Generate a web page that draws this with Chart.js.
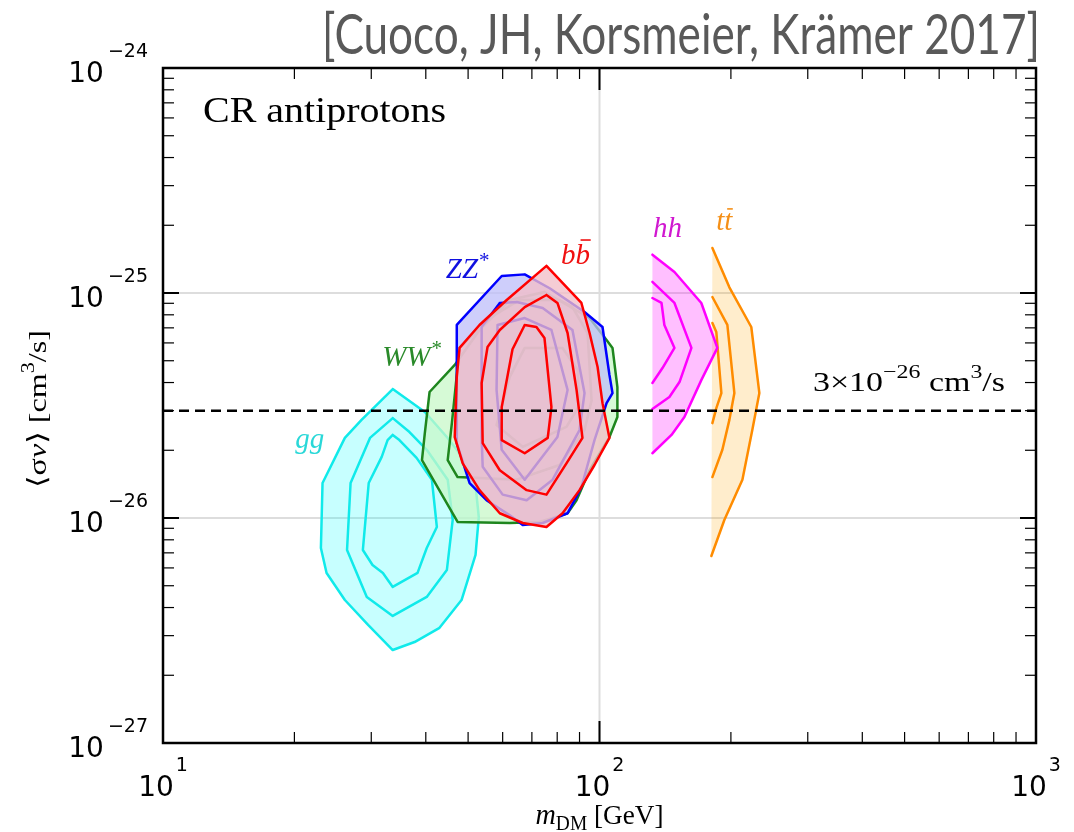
<!DOCTYPE html>
<html>
<head>
<meta charset="utf-8">
<script src="https://cdn.jsdelivr.net/npm/chart.js@4.4.0/dist/chart.umd.min.js"></script>
<style>
  html, body { margin: 0; padding: 0; background: #fff; }
  #wrap { width: 1074px; height: 832px; }
</style>
</head>
<body>
<div id="wrap"><canvas id="chart" width="1074" height="832"></canvas></div>
<script>
// mass in GeV, <sigma v> in units of 1e-26 cm^3/s
const massRange = [10, 1000];
const sigmaRange = [0.1, 100];
const xDecades = [1, 2, 3];
const yDecades = [-27, -26, -25, -24];
const thermalSigma = 3;

// contour levels per channel, [mass, sigma v]
const ggOuter = [[33.6, 3.74], [39.8, 2.96], [44.7, 2.29], [49.1, 1.81], [52.0, 1.40], [52.9, 1.01], [52.0, 0.685], [48.3, 0.432], [43.0, 0.325], [37.7, 0.281], [33.6, 0.259], [29.5, 0.335], [26.1, 0.432], [23.7, 0.570], [23.0, 0.736], [23.2, 1.43], [26.1, 2.27], [28.5, 2.73]];
const ggMiddle = [[33.6, 2.78], [36.7, 2.41], [40.2, 2.01], [44.9, 1.48], [46.1, 0.98], [44.7, 0.587], [40.2, 0.446], [33.6, 0.367], [29.3, 0.446], [26.4, 0.721], [26.9, 1.43], [29.8, 2.27]];
const ggInner = [[33.6, 2.34], [34.8, 2.22], [38.1, 1.85], [41.3, 1.48], [42.4, 0.912], [40.2, 0.736], [38.3, 0.570], [33.6, 0.494], [31.9, 0.570], [30.2, 0.618], [28.7, 0.721], [29.6, 1.43], [31.7, 1.87], [32.7, 2.22]];

const wwOuter = [[40.8, 3.63], [46.6, 4.79], [53.1, 6.85], [62.3, 9.31], [74.8, 10.1], [94.9, 7.74], [103.8, 6.18], [107.1, 5.70], [109.9, 3.82], [109.9, 2.81], [105.4, 2.29], [94.9, 1.63], [88.6, 1.20], [84.5, 1.05], [72.9, 0.96], [62.3, 0.95], [47.3, 0.96], [39.2, 1.81], [39.8, 2.39]];
const wwMiddle = [[45.9, 2.64], [47.8, 5.70], [56.0, 7.74], [65.6, 9.31], [81.0, 9.31], [86.7, 8.66], [93.9, 6.64], [95.9, 3.33], [92.4, 2.46], [81.0, 1.72], [64.6, 1.48], [47.3, 1.52], [44.9, 1.81]];
const wwInner = [[62.3, 4.24], [67.4, 5.70], [82.3, 5.70], [89.1, 4.55], [90.0, 3.17], [84.0, 2.54], [66.7, 2.07], [58.1, 2.59]];

const zzOuter = [[47.1, 7.21], [59.7, 11.9], [67.4, 12.1], [76.9, 10.5], [92.4, 8.23], [101.6, 7.06], [105.4, 4.32], [107.1, 3.59], [103.8, 3.24], [97.4, 2.22], [90.9, 1.37], [84.5, 1.05], [74.1, 0.95], [66.7, 0.93], [62.2, 1.03], [55.1, 1.20], [50.4, 1.43], [47.1, 2.15]];
const zzMiddle = [[59.1, 9.03], [64.6, 9.12], [74.1, 8.58], [86.7, 6.85], [92.4, 3.59], [90.0, 2.46], [78.1, 1.48], [68.1, 1.20], [60.0, 1.27], [54.0, 1.69], [53.7, 2.29], [53.7, 7.06]];
const zzInner = [[58.4, 7.21], [67.4, 7.74], [77.6, 6.85], [84.5, 3.71], [80.1, 2.29], [67.4, 1.48], [59.7, 2.01], [58.1, 3.71]];

const bbOuter = [[75.6, 13.2], [90.9, 9.03], [94.9, 6.64], [99.0, 4.69], [101.6, 3.24], [105.4, 2.27], [97.4, 1.72], [90.0, 1.33], [82.3, 1.05], [75.6, 0.912], [66.7, 0.95], [59.1, 1.05], [53.1, 1.33], [48.6, 1.75], [46.6, 2.29], [47.1, 4.24], [47.8, 5.70], [53.1, 7.21], [61.3, 9.31]];
const bbMiddle = [[75.6, 9.80], [80.1, 9.03], [84.5, 6.64], [88.6, 3.71], [91.4, 2.27], [84.0, 1.75], [75.6, 1.27], [68.1, 1.33], [59.1, 1.63], [54.0, 2.15], [53.7, 3.98], [55.4, 5.75], [59.1, 6.85], [67.4, 8.66]];
const bbInner = [[67.4, 7.21], [71.7, 7.06], [74.8, 6.31], [77.6, 3.11], [76.1, 2.27], [67.4, 1.94], [59.7, 2.22], [59.7, 3.11], [63.2, 5.62]];

// hh and tt contours are cut by the lower edge of the mass scan
const hhOuter = [[132.2, 14.8], [148.5, 12.4], [171.1, 9.03], [186.2, 5.70], [171.1, 4.10], [156.5, 2.81], [146.2, 2.34], [132.2, 1.94]];
const hhMiddle = [[132.2, 11.2], [148.5, 9.03], [162.4, 5.70], [152.5, 4.02], [144.6, 3.45], [132.2, 3.05]];
const hhInner = [[132.2, 9.50], [138.7, 9.03], [140.8, 7.21], [148.5, 5.70], [139.4, 4.64], [132.2, 3.98]];

const ttOuter = [[181.4, 15.85], [198.4, 10.6], [222.7, 7.06], [232.4, 3.59], [223.9, 2.46], [212.5, 1.48], [193.2, 0.98], [180.4, 0.678]];
const ttMiddle = [[181.4, 9.6], [196.3, 7.21], [203.7, 3.59], [198.4, 2.73], [191.2, 2.01], [181.4, 1.52]];
const ttInner = [[181.4, 7.36], [185.2, 6.71], [190.2, 3.59], [185.2, 3.08], [181.4, 2.64]];

// channel name anchors (centre of the text)
const channelNames = ['gg', 'WW*', 'ZZ*', 'bb', 'hh', 'tt'];
const channelMass = [21.7, 37.2, 49.9, 88.1, 143.1, 193.2];
const channelSigma = [2.22, 5.14, 12.6, 14.6, 19.2, 20.7];

const colors = {
  gg: '#10eaea', ww: '#1e861e', zz: '#0000ff', bb: '#ff0000', hh: '#ff00ff', tt: '#ff8c00'
};
const labelColors = {
  gg: '#2ad8d8', ww: '#2a8a2a', zz: '#1010e0', bb: '#f01010', hh: '#d018d0', tt: '#f59018'
};
const fills = {
  gg: 'rgba(0,255,255,0.22)',
  ww: 'rgba(200,248,200,0.75)',
  zz: 'rgba(190,190,250,0.75)',
  bb: 'rgba(242,190,200,0.78)',
  hh: 'rgba(255,0,255,0.25)',
  tt: 'rgba(255,165,0,0.2)'
};

const serif = '"Liberation Serif", "DejaVu Serif", serif';
const sans = '"DejaVu Sans", sans-serif';

function toPoints(pairs, close) {
  const pts = pairs.map(([m, s]) => ({ x: m, y: s }));
  if (close) pts.push({ x: pts[0].x, y: pts[0].y });
  return pts;
}

function contour(pairs, color, fillColor, order, close = true, width = 2.5) {
  return {
    data: toPoints(pairs, close),
    showLine: true,
    borderColor: color,
    borderWidth: width,
    borderCapStyle: 'round',
    borderJoinStyle: 'round',
    backgroundColor: fillColor || 'transparent',
    fill: fillColor ? 'shape' : false,
    pointRadius: 0,
    pointHoverRadius: 0,
    order: order
  };
}

const datasets = [
  // reference thermal cross section
  {
    data: [{ x: massRange[0], y: thermalSigma }, { x: massRange[1], y: thermalSigma }],
    showLine: true, borderColor: '#000', borderWidth: 2.5, borderDash: [10, 6],
    pointRadius: 0, pointHoverRadius: 0, fill: false, order: 0
  },
  contour(hhInner, colors.hh, null, 1, false),
  contour(hhMiddle, colors.hh, null, 2, false),
  contour(hhOuter, colors.hh, null, 3, false),
  contour(hhOuter, 'transparent', fills.hh, 4, true, 0),
  contour(ttInner, colors.tt, null, 5, false),
  contour(ttMiddle, colors.tt, null, 6, false),
  contour(ttOuter, colors.tt, null, 7, false),
  contour(ttOuter, 'transparent', fills.tt, 8, true, 0),
  contour(bbInner, colors.bb, null, 10),
  contour(bbMiddle, colors.bb, null, 11),
  contour(bbOuter, colors.bb, fills.bb, 12),
  contour(zzInner, colors.zz, null, 20),
  contour(zzMiddle, colors.zz, null, 21),
  contour(zzOuter, colors.zz, fills.zz, 22),
  contour(wwInner, colors.ww, null, 30),
  contour(wwMiddle, colors.ww, null, 31),
  contour(wwOuter, colors.ww, fills.ww, 32),
  contour(ggInner, colors.gg, null, 40),
  contour(ggMiddle, colors.gg, null, 41),
  contour(ggOuter, colors.gg, fills.gg, 42)
];

function seg(ctx, x1, y1, x2, y2) {
  ctx.beginPath();
  ctx.moveTo(x1, y1);
  ctx.lineTo(x2, y2);
  ctx.stroke();
}

// draws a row of text pieces (italic, sub/superscripts, overbars)
function drawRuns(ctx, runs, x, y, align, fitWidth) {
  let w = 0;
  runs.forEach(r => {
    ctx.font = r.font;
    r.w = ctx.measureText(r.text).width;
    w += r.w + (r.pad || 0);
  });
  const sx = fitWidth ? fitWidth / w : 1;
  const total = w * sx;
  const start = align === 'center' ? x - total / 2 : align === 'right' ? x - total : x;
  ctx.save();
  ctx.textAlign = 'left';
  ctx.textBaseline = 'alphabetic';
  ctx.translate(start, y);
  ctx.scale(sx, 1);
  let cx = 0;
  runs.forEach(r => {
    cx += r.pad || 0;
    ctx.font = r.font;
    ctx.fillText(r.text, cx, r.dy || 0);
    if (r.bar) {
      ctx.save();
      ctx.strokeStyle = ctx.fillStyle;
      ctx.lineWidth = 1.6;
      seg(ctx, cx + r.w * 0.35, -r.bar, cx + r.w * 1.05, -r.bar);
      ctx.restore();
    }
    cx += r.w;
  });
  ctx.restore();
}

function channelRuns(name) {
  const f = 'italic 29px ' + serif;
  const star = '21px ' + serif;
  if (name === 'WW*' || name === 'ZZ*') {
    return [{ text: name.slice(0, 2), font: f }, { text: '*', font: star, dy: -11, pad: 1 }];
  }
  if (name === 'bb' || name === 'tt') {
    return [{ text: name[0], font: f }, { text: name[1], font: f, bar: name === 'bb' ? 24 : 21 }];
  }
  return [{ text: name, font: f }];
}

const axisDecor = {
  id: 'axisDecor',
  beforeDatasetsDraw(chart) {
    const { ctx, chartArea: a, scales: { x, y } } = chart;
    ctx.save();
    ctx.strokeStyle = '#dddddd';
    ctx.lineWidth = 2;
    xDecades.forEach(k => {
      const px = x.getPixelForValue(10 ** k);
      if (px > a.left + 2 && px < a.right - 2) seg(ctx, px, a.top, px, a.bottom);
    });
    yDecades.forEach(e => {
      const py = y.getPixelForValue(10 ** (e + 26));
      if (py > a.top + 2 && py < a.bottom - 2) seg(ctx, a.left, py, a.right, py);
    });
    ctx.restore();
  },
  afterDatasetsDraw(chart) {
    const { ctx, chartArea: a, scales: { x, y } } = chart;
    ctx.save();
    ctx.strokeStyle = '#000';

    // inward ticks on all four sides
    for (let d = xDecades[0]; d < xDecades[xDecades.length - 1]; d++) {
      for (let m = 1; m < 10; m++) {
        if (m === 1 && d === xDecades[0]) continue;
        const px = x.getPixelForValue(m * 10 ** d);
        const len = m === 1 ? 22 : 11;
        ctx.lineWidth = m === 1 ? 2 : 1.2;
        seg(ctx, px, a.top, px, a.top + len);
        seg(ctx, px, a.bottom, px, a.bottom - len);
      }
    }
    for (let e = yDecades[0]; e < yDecades[yDecades.length - 1]; e++) {
      for (let m = 1; m < 10; m++) {
        if (m === 1 && e === yDecades[0]) continue;
        const py = y.getPixelForValue(m * 10 ** (e + 26));
        const len = m === 1 ? 16 : 11;
        ctx.lineWidth = m === 1 ? 2 : 1.2;
        seg(ctx, a.left, py, a.left + len, py);
        seg(ctx, a.right, py, a.right - len, py);
      }
    }
    ctx.lineWidth = 2.5;
    ctx.strokeRect(a.left, a.top, a.right - a.left, a.bottom - a.top);

    // tick labels
    ctx.fillStyle = '#000';
    const tickFont = '28px ' + sans;
    const expFont = '19px ' + sans;
    xDecades.forEach(k => {
      drawRuns(ctx, [{ text: '10', font: tickFont }, { text: String(k), font: expFont, dy: -25, pad: 2 }],
        x.getPixelForValue(10 ** k), 796, 'center');
    });
    yDecades.forEach(e => {
      drawRuns(ctx, [{ text: '10', font: tickFont }, { text: '\u2212' + Math.abs(e), font: expFont, dy: -25, pad: 4 }],
        148, y.getPixelForValue(10 ** (e + 26)) + 14, 'right');
    });

    // axis titles
    drawRuns(ctx, [
      { text: 'm', font: 'italic 29px ' + serif },
      { text: 'DM', font: '20px ' + serif, dy: 6 },
      { text: ' [GeV]', font: '28px ' + serif }
    ], (a.left + a.right) / 2, 824, 'center', 128);

    ctx.save();
    ctx.translate(38, 409);
    ctx.rotate(-Math.PI / 2);
    drawRuns(ctx, [
      { text: '\u27E8\u03C3', font: '26px ' + serif },
      { text: 'v', font: 'italic 26px ' + serif },
      { text: '\u27E9 [cm', font: '26px ' + serif },
      { text: '3', font: '18px ' + serif, dy: -12 },
      { text: '/s]', font: '26px ' + serif }
    ], 0, 8, 'center', 158);
    ctx.restore();

    // panel text
    drawRuns(ctx, [{ text: 'CR antiprotons', font: '35px ' + serif }], a.left + 40, 122, 'left', 243);
    drawRuns(ctx, [
      { text: '3\u00D710', font: '27px ' + serif },
      { text: '\u221226', font: '19px ' + serif, dy: -13 },
      { text: ' cm', font: '27px ' + serif },
      { text: '3', font: '19px ' + serif, dy: -13 },
      { text: '/s', font: '27px ' + serif }
    ], 813, 391, 'left', 192);

    ctx.fillStyle = '#595959';
    drawRuns(ctx, [{ text: '[Cuoco, JH, Korsmeier, Kr\u00E4mer 2017]', font: '56px Lato, "Open Sans", sans-serif' }],
      1040, 54, 'right', 718);

    // channel names
    const keys = ['gg', 'ww', 'zz', 'bb', 'hh', 'tt'];
    channelNames.forEach((name, i) => {
      ctx.fillStyle = labelColors[keys[i]];
      const px = x.getPixelForValue(channelMass[i]);
      const py = y.getPixelForValue(channelSigma[i]);
      drawRuns(ctx, channelRuns(name), px, py + 8, 'center');
    });
    ctx.restore();
  }
};

new Chart(document.getElementById('chart').getContext('2d'), {
  type: 'scatter',
  data: { datasets: datasets },
  options: {
    responsive: false,
    animation: false,
    devicePixelRatio: 1,
    layout: { padding: { left: 163, right: 38, top: 68, bottom: 89 } },
    plugins: { legend: { display: false }, tooltip: { enabled: false } },
    events: [],
    scales: {
      x: { type: 'logarithmic', min: massRange[0], max: massRange[1], display: false },
      y: { type: 'logarithmic', min: sigmaRange[0], max: sigmaRange[1], display: false }
    }
  },
  plugins: [axisDecor]
});
</script>
</body>
</html>
